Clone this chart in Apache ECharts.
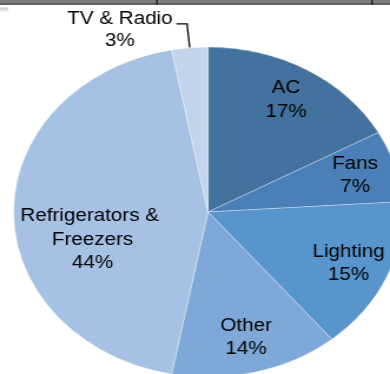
<!DOCTYPE html>
<html><head><meta charset="utf-8">
<script src="https://cdn.jsdelivr.net/npm/echarts@6/dist/echarts.min.js"></script>
<style>
html,body{margin:0;padding:0;background:#fff;overflow:hidden;width:390px;height:374px}
#wrap{width:390px;height:374px;overflow:hidden;position:relative}
#c{width:331px;height:374px;transform:scaleX(1.1782);transform-origin:0 0}
</style></head>
<body><div id="wrap"><div id="c"></div></div>
<script>
const categories = ['AC', 'Fans', 'Lighting', 'Other', 'Refrigerators & Freezers', 'TV & Radio'];
const shares = [17, 7, 15, 14, 44, 3];
const colors = ['#44729E', '#4A7FB7', '#5895CD', '#7DA8D8', '#A6C1E3', '#C2D4EB'];
const outsideLabel = 'TV & Radio';

const SX = 1.1782;
const CX = 208 / SX, CY = 212, R = 165;
const FONT = '"Liberation Sans", Arial, sans-serif';

const chart = echarts.init(document.getElementById('c'), null, {renderer: 'canvas'});

const mainData = categories.map((name, i) => {
  const isOut = name === outsideLabel;
  return {
    name, value: shares[i],
    itemStyle: {color: colors[i]},
    label: {show: isOut},
    labelLine: {show: isOut}
  };
});

const ghostData = categories.map((name, i) => {
  const isOut = name === outsideLabel;
  const item = {name, value: shares[i], label: {show: !isOut}};
  if (name === 'Refrigerators & Freezers') item.label.offset = [32, 28];
  return item;
});

chart.setOption({
  animation: false,
  backgroundColor: '#fff',
  graphic: [
    {type: 'rect', shape: {x: 0, y: 0, width: 331, height: 3.2}, style: {fill: '#7d7d7d'}, z: 10},
    {type: 'rect', shape: {x: 0, y: 3.2, width: 331, height: 1.6}, style: {fill: '#333'}, z: 10},
    {type: 'rect', shape: {x: 157 / SX - 0.6, y: 0, width: 1.2, height: 4.8}, style: {fill: '#111'}, z: 11},
    {type: 'rect', shape: {x: 372 / SX - 0.6, y: 0, width: 1.2, height: 4.8}, style: {fill: '#111'}, z: 11},
    {type: 'rect', shape: {x: 0, y: 7.5, width: 7, height: 4},
      style: {fill: new echarts.graphic.LinearGradient(0, 0, 0, 1, [{offset: 0, color: '#c8c8c8'}, {offset: 1, color: '#f2f2f2'}])}, z: 10}
  ],
  series: [
    {
      type: 'pie',
      center: [CX, CY],
      radius: [0, R],
      startAngle: 90,
      clockwise: true,
      avoidLabelOverlap: false,
      silent: true,
      itemStyle: {borderColor: 'rgba(255,255,255,0.55)', borderWidth: 0.6},
      label: {
        position: 'outside',
        distanceToLabelLine: 5,
        color: '#000',
        fontFamily: FONT,
        fontSize: 17.5,
        padding: [12, 0, 0, 0],
        formatter: p => '{t|' + p.name + '}\n{t|' + p.value + '%}',
        rich: {t: {width: 86, align: 'center', fontFamily: FONT, fontSize: 17.5, color: '#000', lineHeight: 22}}
      },
      labelLine: {show: true, length: 24, length2: 9, smooth: false,
        lineStyle: {color: '#000', width: 1.3}},
      data: mainData
    },
    {
      type: 'pie',
      center: [CX, CY],
      radius: [89, R],
      startAngle: 90,
      clockwise: true,
      avoidLabelOverlap: false,
      silent: true,
      itemStyle: {color: 'rgba(0,0,0,0)', borderWidth: 0},
      label: {
        position: 'inside',
        color: '#000',
        fontFamily: FONT,
        fontSize: 17.5,
        lineHeight: 23.5,
        width: 125,
        overflow: 'break',
        align: 'center',
        padding: [5, 0, 0, 0],
        formatter: '{b}\n{c}%'
      },
      labelLine: {show: false},
      data: ghostData
    }
  ]
});
</script>
</body></html>
